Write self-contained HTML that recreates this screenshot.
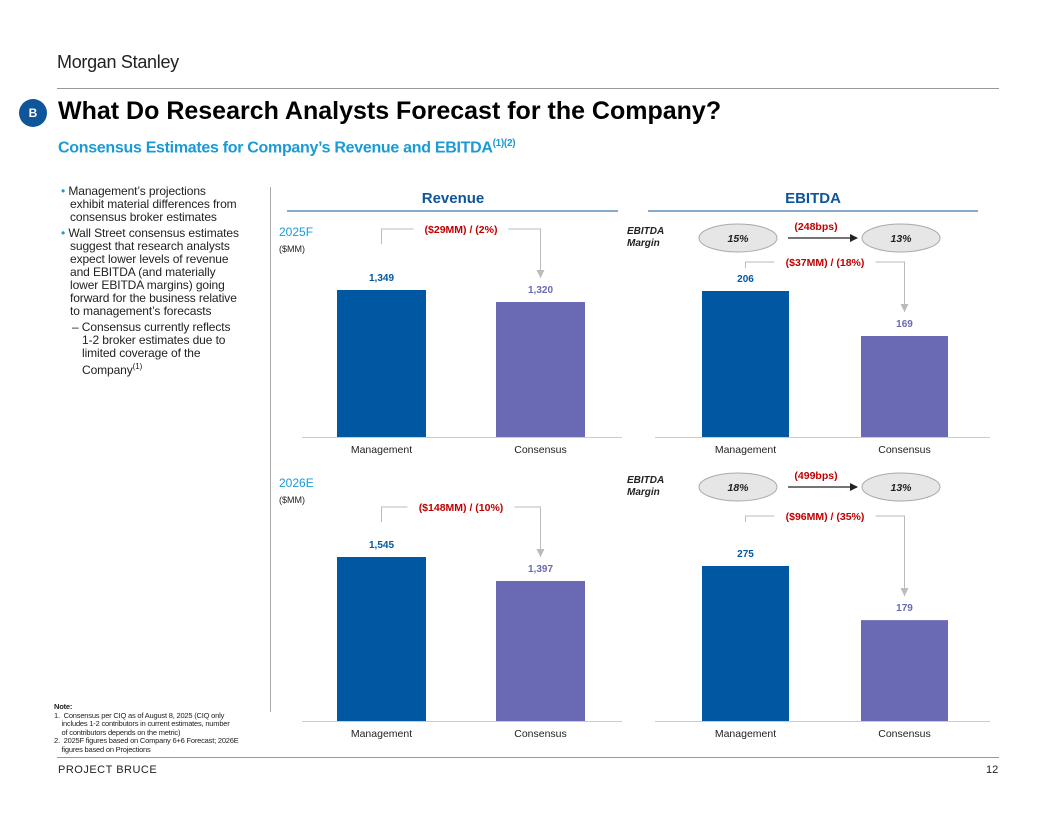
<!DOCTYPE html>
<html><head><meta charset="utf-8"><style>
body{margin:0;width:1056px;height:816px;background:#fff;font-family:"Liberation Sans",sans-serif;position:relative;overflow:hidden}
.a{position:absolute}
ul{margin:0;padding:0;list-style:none}
</style></head><body>
<div class="a" style="left:57px;top:52px;font-size:18px;color:#222;letter-spacing:-0.3px">Morgan Stanley</div>
<div class="a" style="left:57px;top:88px;width:942px;height:1px;background:#999"></div>
<div class="a" style="left:19px;top:99px;width:28px;height:28px;border-radius:50%;background:#0f559a;color:#fff;font-weight:bold;font-size:12px;text-align:center;line-height:28px">B</div>
<div class="a" style="left:58px;top:97px;font-size:25px;font-weight:bold;color:#000">What Do Research Analysts Forecast for the Company?</div>
<div class="a" style="left:58px;top:138px;font-size:16px;font-weight:bold;color:#1a9ad6;letter-spacing:-0.3px">Consensus Estimates for Company’s Revenue and EBITDA<sup style="font-size:10px">(1)(2)</sup></div>
<div class="a" style="left:58px;top:185px;width:182px;font-size:12px;line-height:13px;color:#222;letter-spacing:-0.1px">
<ul>
<li style="padding-left:12px;text-indent:-9px"><span style="color:#1a9ad6">•</span> Management’s projections exhibit material differences from consensus broker estimates</li>
<li style="padding-left:12px;text-indent:-9px;margin-top:3px"><span style="color:#1a9ad6">•</span> Wall Street consensus estimates suggest that research analysts expect lower levels of revenue and EBITDA (and materially lower EBITDA margins) going forward for the business relative to management’s forecasts</li>
<li style="padding-left:24px;text-indent:-10px;margin-top:3px;width:150px">– Consensus currently reflects 1-2 broker estimates due to limited coverage of the Company<sup style="font-size:8px">(1)</sup></li>
</ul></div>
<div class="a" style="left:270px;top:187px;width:1px;height:525px;background:#aaa"></div>
<div class="a" style="left:54px;top:703px;width:210px;font-size:7.5px;line-height:8.5px;color:#222;letter-spacing:-0.2px"><b>Note:</b><br>1.&nbsp; Consensus per CIQ as of August 8, 2025 (CIQ only<br>&nbsp;&nbsp;&nbsp;&nbsp;includes 1-2 contributors in current estimates, number<br>&nbsp;&nbsp;&nbsp;&nbsp;of contributors depends on the metric)<br>2.&nbsp; 2025F figures based on Company 6+6 Forecast; 2026E<br>&nbsp;&nbsp;&nbsp;&nbsp;figures based on Projections</div>
<div class="a" style="left:57px;top:757px;width:942px;height:1px;background:#999"></div>
<div class="a" style="left:58px;top:764px;font-size:11px;color:#222;letter-spacing:0.5px">PROJECT BRUCE</div>
<div class="a" style="left:986px;top:764px;font-size:11px;color:#222">12</div>
<svg class="a" id="chart" style="left:0;top:0" width="1056" height="816" font-family="Liberation Sans, sans-serif"></svg>
<script>
const categories=["Management","Consensus"];
const revenue2025=[1349,1320];
const revenue2026=[1545,1397];
const ebitda2025=[206,169];
const ebitda2026=[275,179];
const margins2025=["15%","13%"];
const margins2026=["18%","13%"];
const deltas=["($29MM) / (2%)","($148MM) / (10%)","($37MM) / (18%)","($96MM) / (35%)"];
const bpsLabels=["(248bps)","(499bps)"];
const labelsVal=[["1,349","1,320"],["1,545","1,397"],["206","169"],["275","179"]];
const svg=document.getElementById('chart');
const NS='http://www.w3.org/2000/svg';
function el(t,a,txt){const e=document.createElementNS(NS,t);for(const k in a)e.setAttribute(k,a[k]);if(txt!==undefined)e.textContent=txt;svg.appendChild(e);return e;}
let h=el('text',{x:453,y:203,'text-anchor':'middle','font-size':15,'font-weight':'bold',fill:'#0f559a'},'Revenue');


h=el('text',{x:813,y:203,'text-anchor':'middle','font-size':15,'font-weight':'bold',fill:'#0f559a'},'EBITDA');


el('line',{x1:287,x2:618,y1:211,y2:211,stroke:'#0f559a','stroke-width':1});
el('line',{x1:648,x2:978,y1:211,y2:211,stroke:'#0f559a','stroke-width':1});
el('defs',{}).innerHTML='<marker id="ag" markerWidth="9" markerHeight="9" refX="8" refY="4" orient="auto" markerUnits="userSpaceOnUse"><path d="M0,0 L8,4 L0,8z" fill="#bbb"/></marker><marker id="ak" markerWidth="8" markerHeight="8" refX="7" refY="4" orient="auto" markerUnits="userSpaceOnUse"><path d="M0,0 L8,4 L0,8z" fill="#222"/></marker>';
const panels=[
 {d:revenue2025,base:437,xs:[337,496],w:89,lo:994,k:147/(1349-994),xl:[302,622],ty:229,name:'revenue-2025'},
 {d:revenue2026,base:721,xs:[337,496],w:89,lo:533,k:164/(1545-533),xl:[302,622],ty:507,name:'revenue-2026'},
 {d:ebitda2025,base:437,xs:[702,861],w:87,lo:86,k:146/(206-86),xl:[655,990],ty:262,name:'ebitda-2025'},
 {d:ebitda2026,base:721,xs:[702,861],w:87,lo:0,k:155/275,xl:[655,990],ty:516,name:'ebitda-2026'}];
const colors=['#0058a3','#6a6ab4'];
panels.forEach((p,pi)=>{
 const y=v=>p.base-(v-p.lo)*p.k;
 const tops=[];
 p.d.forEach((v,i)=>{
  const t=y(v);tops.push(t);
  const r=el('rect',{x:p.xs[i],y:t,width:p.w,height:p.base-t,fill:colors[i]});
  
  
  const l=el('text',{x:p.xs[i]+p.w/2,y:t-9,'text-anchor':'middle','font-size':10,'font-weight':'bold',fill:colors[i]},labelsVal[pi][i]);
  
  
  const c=el('text',{x:p.xs[i]+p.w/2,y:p.base+16,'text-anchor':'middle','font-size':10.5,fill:'#222'},categories[i]);
  
  
 });
 el('line',{x1:p.xl[0],x2:p.xl[1],y1:p.base+0.5,y2:p.base+0.5,stroke:'#ccc'});
 const cx0=p.xs[0]+p.w/2,cx1=p.xs[1]+p.w/2;
 const ty=p.ty;
 const lbl=el('text',{x:(cx0+cx1)/2,y:ty+4,'text-anchor':'middle','font-size':10.5,'font-weight':'bold',fill:'#c00000'},deltas[pi]);
 
 
 const tw=deltas[pi].length*6.2/2+4, mx=(cx0+cx1)/2;
 const lh=pi<2?15:6;
 el('polyline',{points:`${cx0},${ty+lh} ${cx0},${ty} ${mx-tw},${ty}`,fill:'none',stroke:'#bbb'});
 el('polyline',{points:`${mx+tw},${ty} ${cx1},${ty} ${cx1},${tops[1]-24}`,fill:'none',stroke:'#bbb','marker-end':'url(#ag)'});
});
[[437,'2025F'],[721,'2026E']].forEach(([b,yr],i)=>{
 const t0=i?487:236;
 const a=el('text',{x:279,y:t0,'font-size':12,fill:'#1a9ad6'},yr);
 el('text',{x:279,y:t0+16,'font-size':9,fill:'#222'},'($MM)');
 const m=i?margins2026:margins2025, my=i?487:238;
 const e1=el('text',{x:627,y:my-4,'font-size':10,'font-weight':'bold','font-style':'italic',fill:'#222'},'EBITDA');
 
 el('text',{x:627,y:my+8,'font-size':10,'font-weight':'bold','font-style':'italic',fill:'#222'},'Margin');
 [[738,m[0]],[901,m[1]]].forEach(([x,v])=>{
  const o=el('ellipse',{cx:x,cy:my,rx:39,ry:14,fill:'#e6e6e6',stroke:'#aaa'});
  
  el('text',{x:x,y:my+4,'text-anchor':'middle','font-size':10.5,'font-weight':'bold','font-style':'italic',fill:'#222'},v);
 });
 el('line',{x1:788,x2:857,y1:my,y2:my,stroke:'#222','stroke-width':1.2,'marker-end':'url(#ak)'});
 el('text',{x:816,y:my-8,'text-anchor':'middle','font-size':10.5,'font-weight':'bold',fill:'#c00000'},bpsLabels[i]);
});
</script>
</body></html>
